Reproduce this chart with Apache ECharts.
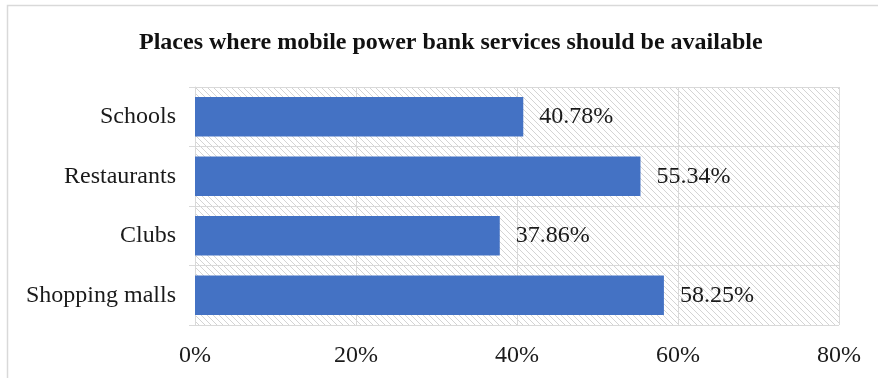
<!DOCTYPE html>
<html>
<head>
<meta charset="utf-8">
<style>
  html, body { margin: 0; padding: 0; background: #fff; }
  #chart { width: 878px; height: 378px; }
</style>
<script src="https://cdn.jsdelivr.net/npm/echarts@6/dist/echarts.min.js"></script>
</head>
<body>
<div id="chart"></div>
<script>
// Categories listed bottom-to-top, as drawn on a horizontal category axis
const categories = ['Shopping malls', 'Clubs', 'Restaurants', 'Schools'];
const shares = [58.25, 37.86, 55.34, 40.78];
const xTicks = [0, 20, 40, 60, 80];

const serif = '"Liberation Serif", "Times New Roman", serif';

// Light diagonal hatch used as the plot-area fill
function hatchPattern() {
  const s = 6;
  const c = document.createElement('canvas');
  c.width = s; c.height = s;
  const g = c.getContext('2d');
  g.strokeStyle = '#d4d4d4';
  g.lineWidth = 1;
  g.beginPath();
  g.moveTo(-1, -1); g.lineTo(s + 1, s + 1);
  g.moveTo(-1, s - 1); g.lineTo(1, s + 1);
  g.moveTo(s - 1, -1); g.lineTo(s + 1, 1);
  g.stroke();
  return { image: c, repeat: 'repeat' };
}

const chart = echarts.init(document.getElementById('chart'), null, { renderer: 'canvas' });
chart.setOption({
  animation: false,
  backgroundColor: '#ffffff',
  title: {
    text: 'Places where mobile power bank services should be available',
    left: 139,
    top: 31,
    padding: 0,
    textStyle: { fontFamily: serif, fontWeight: 'bold', fontSize: 24, color: '#111' }
  },
  graphic: [{
    type: 'rect',
    shape: { x: 7.5, y: 5.5, width: 900, height: 400 },
    style: { fill: 'none', stroke: '#d9d9d9', lineWidth: 1.5 },
    silent: true
  }],
  grid: {
    left: 195, right: 39, top: 87, bottom: 53,
    show: true,
    backgroundColor: hatchPattern(),
    borderWidth: 0
  },
  xAxis: {
    type: 'value',
    min: 0, max: 80, interval: 20,
    axisLine: { show: false },
    axisTick: { show: false },
    splitLine: { show: true, lineStyle: { color: '#d9d9d9', width: 1 } },
    axisLabel: {
      fontFamily: serif, fontSize: 24, color: '#1a1a1a', margin: 19,
      formatter: v => (xTicks.includes(v) ? v + '%' : '')
    }
  },
  yAxis: {
    type: 'category',
    data: categories,
    axisLine: { show: true, lineStyle: { color: '#d9d9d9', width: 1 } },
    axisTick: { show: true, length: 6, lineStyle: { color: '#d9d9d9' } },
    splitLine: { show: true, lineStyle: { color: '#d9d9d9', width: 1 } },
    axisLabel: {
      fontFamily: serif, fontSize: 24, color: '#1a1a1a', margin: 19,
      padding: [4, 0, 0, 0]
    }
  },
  series: [{
    type: 'bar',
    data: shares,
    barCategoryGap: '34%',
    itemStyle: { color: '#4472C4' },
    label: {
      show: true,
      position: 'right',
      distance: 16,
      fontFamily: serif,
      fontSize: 24,
      color: '#1a1a1a',
      padding: [4, 0, 0, 0],
      formatter: p => p.value.toFixed(2) + '%'
    }
  }]
});
</script>
</body>
</html>
